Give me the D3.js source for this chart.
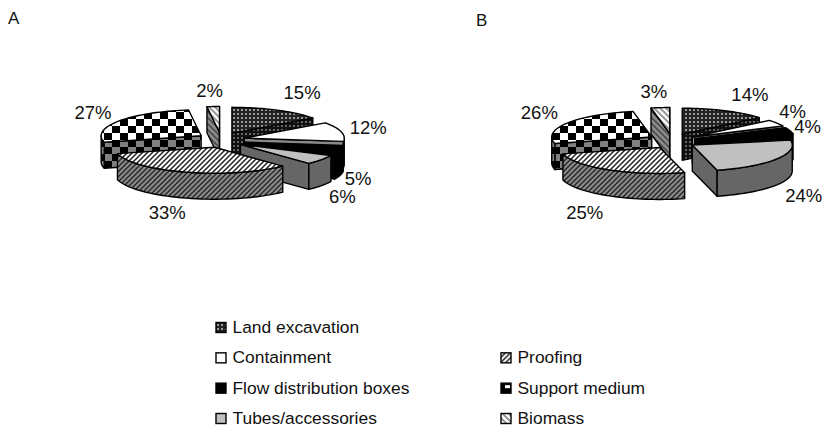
<!DOCTYPE html>
<html>
<head>
<meta charset="utf-8">
<script src="https://cdn.jsdelivr.net/npm/d3@7"></script>
<style>
  html, body { margin: 0; padding: 0; background: #fff; }
  text { font-family: "Liberation Sans", Arial, sans-serif; fill: #111; }
</style>
</head>
<body>
<div id="chart"></div>
<script>
const categories = ["Land excavation", "Containment", "Flow distribution boxes", "Tubes/accessories", "Proofing", "Support medium", "Biomass"]
const valuesA = [15, 12, 5, 6, 33, 27, 2]
const valuesB = [14, 4, 4, 24, 25, 26, 3]

// legend order, two columns
const legendLeft = ["Land excavation", "Containment", "Flow distribution boxes", "Tubes/accessories"]
const legendRight = ["Proofing", "Support medium", "Biomass"]

const width = 823
const height = 428
const rx = 100, ry = 26, depth = 26
const explodeX = 24, explodeY = 7.5

const svg = d3.select("#chart").append("svg")
    .attr("width", width)
    .attr("height", height)
    .style("display", "block")

const defs = svg.append("defs")

function hatch(id, bg, fg, size, dir, sw) {
    const p = defs.append("pattern").attr("id", id)
        .attr("patternUnits", "userSpaceOnUse")
        .attr("width", size).attr("height", size)
    p.append("rect").attr("width", size).attr("height", size).attr("fill", bg)
    const d = dir > 0
        ? `M0,${size} L${size},0 M${-size / 2},${size / 2} L${size / 2},${-size / 2} M${size / 2},${size * 1.5} L${size * 1.5},${size / 2}`
        : `M0,0 L${size},${size} M${-size / 2},${size / 2} L${size / 2},${size * 1.5} M${size / 2},${-size / 2} L${size * 1.5},${size / 2}`
    p.append("path").attr("d", d).attr("stroke", fg).attr("stroke-width", sw)
}

function checker(id, a, b, w, h) {
    const p = defs.append("pattern").attr("id", id)
        .attr("patternUnits", "userSpaceOnUse")
        .attr("width", w * 2).attr("height", h * 2)
    p.append("rect").attr("width", w * 2).attr("height", h * 2).attr("fill", a)
    p.append("rect").attr("width", w).attr("height", h).attr("fill", b)
    p.append("rect").attr("x", w).attr("y", h).attr("width", w).attr("height", h).attr("fill", b)
}

function dots(id, bg, fg) {
    const p = defs.append("pattern").attr("id", id)
        .attr("patternUnits", "userSpaceOnUse")
        .attr("width", 4).attr("height", 4)
    p.append("rect").attr("width", 4).attr("height", 4).attr("fill", bg)
    p.append("rect").attr("x", 1).attr("y", 1).attr("width", 2).attr("height", 2).attr("fill", fg)
}

dots("landTop", "#222", "#999")
dots("landWall", "#111", "#666")
hatch("proofTop", "#fff", "#222", 5, 1, 1.5)
hatch("proofWall", "#8a8a8a", "#222", 5, 1, 1.3)
hatch("bioTop", "#fff", "#999", 6, -1, 2)
hatch("bioWall", "#8a8a8a", "#444", 6, -1, 1.5)
checker("supTop", "#fff", "#000", 8, 7)
checker("supWall", "#808080", "#000", 8, 7)

// little legend key for the support medium, black with a white window
const supKey = defs.append("pattern").attr("id", "supKey")
    .attr("patternUnits", "objectBoundingBox")
    .attr("width", 1).attr("height", 1)
supKey.append("rect").attr("width", 10).attr("height", 10).attr("fill", "#000")
supKey.append("rect").attr("x", 4).attr("y", 2).attr("width", 5).attr("height", 3).attr("fill", "#fff")

const topFill = ["url(#landTop)", "#fff", "#000", "#c0c0c0", "url(#proofTop)", "url(#supTop)", "url(#bioTop)"]
const wallFill = ["url(#landWall)", "#888", "#000", "#666", "url(#proofWall)", "url(#supWall)", "url(#bioWall)"]
const keyFill = ["url(#landTop)", "#fff", "#000", "#c0c0c0", "url(#proofTop)", "url(#supKey)", "url(#bioTop)"]

const pie = d3.pie().sort(null).value(d => d)
const polygon = d3.line().curve(d3.curveLinearClosed)

function drawPie(title, titleX, titleY, values, cx, cy, nudge) {
    svg.append("text")
        .attr("x", titleX)
        .attr("y", titleY)
        .attr("font-size", 17)
        .text(title)

    const arcs = pie(values).map((d, i) => {
        const mid = (d.startAngle + d.endAngle) / 2
        return {
            ...d, i, mid,
            ax: cx + explodeX * Math.sin(mid),
            ay: cy - explodeY * Math.cos(mid)
        }
    })

    // back slices first so the front ones paint over them
    const ordered = arcs.slice().sort((a, b) => d3.descending(Math.cos(a.mid), Math.cos(b.mid)))

    ordered.forEach(d => {
        const g = svg.append("g")
            .attr("stroke", "#000")
            .attr("stroke-width", 1.4)
            .attr("stroke-linejoin", "round")
        const pt = a => [d.ax + rx * Math.sin(a), d.ay - ry * Math.cos(a)]
        const down = p => [p[0], p[1] + depth]
        const sample = (a0, a1) => d3.range(0, 41).map(k => pt(a0 + (a1 - a0) * k / 40))
        const apex = [d.ax, d.ay]

        // radial walls, only the ones facing the viewer
        if (Math.sin(d.startAngle) < 0) {
            const p = pt(d.startAngle)
            g.append("path").attr("fill", wallFill[d.i])
                .attr("d", polygon([apex, p, down(p), down(apex)]))
        }
        if (Math.sin(d.endAngle) > 0) {
            const p = pt(d.endAngle)
            g.append("path").attr("fill", wallFill[d.i])
                .attr("d", polygon([apex, p, down(p), down(apex)]))
        }

        // outer wall, front half of the ellipse
        const a0 = Math.max(d.startAngle, Math.PI / 2)
        const a1 = Math.min(d.endAngle, Math.PI * 1.5)
        if (a1 > a0) {
            const rim = sample(a0, a1)
            g.append("path").attr("fill", wallFill[d.i])
                .attr("d", polygon(rim.concat(rim.map(down).reverse())))
        }

        g.append("path").attr("fill", topFill[d.i])
            .attr("d", polygon([apex].concat(sample(d.startAngle, d.endAngle))))
    })

    // labels
    arcs.forEach(d => {
        const c = Math.cos(d.mid)
        svg.append("text")
            .attr("x", cx + 150 * Math.sin(d.mid) + nudge[d.i][0])
            .attr("y", cy - 55 * c + depth * Math.max(0, -c) + nudge[d.i][1])
            .attr("text-anchor", "middle")
            .attr("dominant-baseline", "central")
            .attr("font-size", 18.5)
            .text(`${values[d.i]}%`)
    })
}

drawPie("A", 8, 24, valuesA, 221, 140, [[13, 2], [2, 1], [-7, 16], [0, 9], [-12, -5], [-4, 3], [-2, 5]])
drawPie("B", 476, 26, valuesB, 672, 141, [[14, 3], [-6, 0], [-7, 2], [5, 11], [-11, 2], [-6, 1], [-4, 5]])

function legendColumn(names, boxX, firstRow) {
    const rowY = d3.scaleLinear().domain([0, 3]).range([327, 418])
    const item = svg.selectAll(null)
        .data(names)
        .enter().append("g")
        .attr("transform", (d, i) => `translate(${boxX},${rowY(i + firstRow)})`)
    item.append("rect")
        .attr("x", 0).attr("y", -4.5)
        .attr("width", 10).attr("height", 10)
        .attr("fill", d => keyFill[categories.indexOf(d)])
        .attr("stroke", "#000")
        .attr("stroke-width", 1.4)
    item.append("text")
        .attr("x", 16.5)
        .attr("dominant-baseline", "central")
        .attr("font-size", 17.4)
        .text(d => d)
}

legendColumn(legendLeft, 216, 0)
legendColumn(legendRight, 501, 1)
</script>
</body>
</html>
